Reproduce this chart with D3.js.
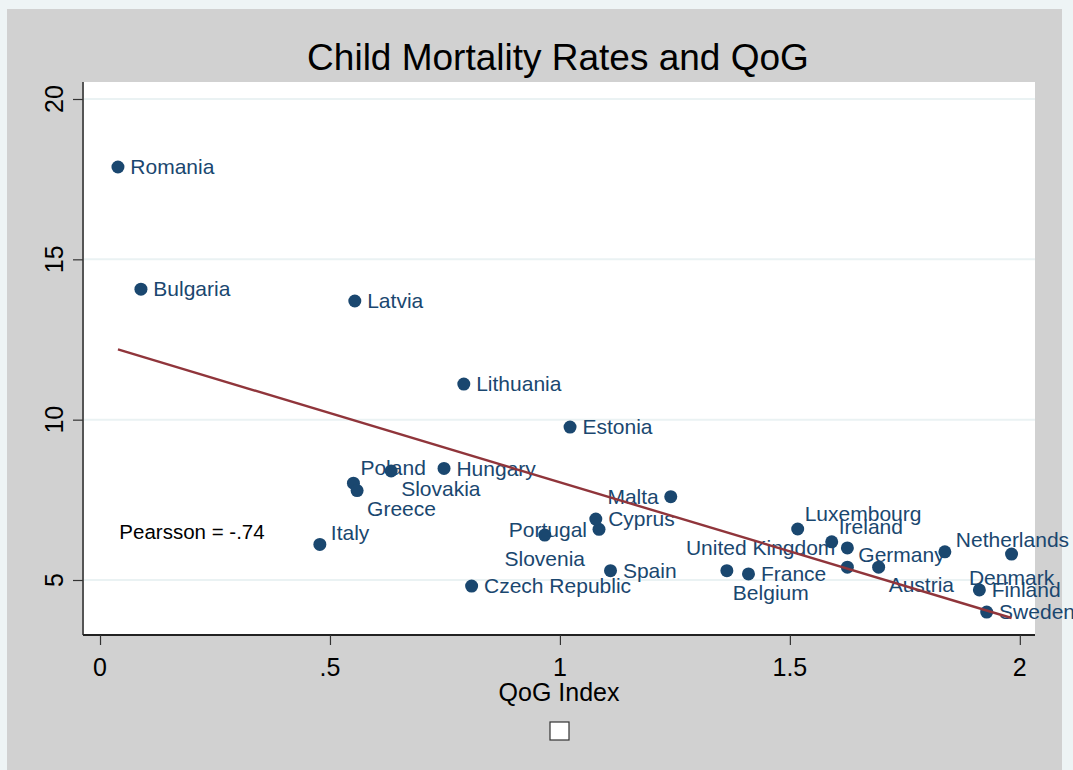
<!DOCTYPE html>
<html>
<head>
<meta charset="utf-8">
<script src="https://cdn.jsdelivr.net/npm/d3@7"></script>
<style>
  html, body { margin: 0; padding: 0; background: #eef4f5; }
  svg { display: block; }
  text { font-family: "Liberation Sans", Arial, Helvetica, sans-serif; }
</style>
</head>
<body>
<svg id="chart" width="1073" height="770"></svg>
<script>
// ---------------- data ----------------
const countries = ["Romania","Bulgaria","Latvia","Lithuania","Estonia","Hungary","Poland","Slovakia","Greece","Italy",
  "Czech Republic","Slovenia","Portugal","Cyprus","Malta","Spain","Luxembourg","Ireland","United Kingdom","Germany",
  "Austria","Netherlands","Denmark","Finland","Sweden","France","Belgium"];
const qogIndex = [0.039,0.089,0.554,0.791,1.022,0.748,0.551,0.633,0.559,0.478,
  0.808,0.967,1.085,1.078,1.241,1.110,1.517,1.591,1.625,1.625,
  1.693,1.837,1.982,1.912,1.928,1.410,1.363];
const childMortality = [17.88,14.07,13.70,11.11,9.77,8.48,8.02,8.40,7.79,6.11,
  4.81,6.40,6.58,6.90,7.60,5.29,6.59,6.19,6.00,5.40,
  5.40,5.88,5.81,4.69,4.00,5.19,5.29];
// marker-label clock positions (Stata mlabvposition style)
const labelClock = [3,3,3,3,3,3,1,4,4,2,
  3,6,9,3,9,3,1,1,9,2,
  4,2,6,3,3,3,5];
const xTicks = [0, 0.5, 1, 1.5, 2];
const xTickLabels = ["0", ".5", "1", "1.5", "2"];
const yTicks = [5, 10, 15, 20];
const yTickLabels = ["5", "10", "15", "20"];
const titleText = "Child Mortality Rates and QoG";
const xAxisTitle = "QoG Index";
const annotText = "Pearsson = -.74";
const annotPos = [0.2, 6.5];

// ---------------- layout ----------------
const W = 1073, H = 770;
const plot = {left: 83, right: 1035, top: 82, bottom: 635};
const navy = "#1a476f", maroon = "#90353b";

const x = d3.scaleLinear().domain([-0.037, 2.033]).range([plot.left, plot.right]);
const y = d3.scaleLinear().domain([3.285, 20.53]).range([plot.bottom, plot.top]);

const svg = d3.select("#chart");
svg.append("rect").attr("x", 0).attr("y", 0).attr("width", W).attr("height", H).attr("fill", "#eef4f5");
svg.append("rect").attr("x", 7).attr("y", 9).attr("width", 1055).attr("height", 761).attr("fill", "#d1d1d1");
svg.append("rect").attr("x", plot.left).attr("y", plot.top)
  .attr("width", plot.right - plot.left).attr("height", plot.bottom - plot.top).attr("fill", "#ffffff");

// gridlines
svg.append("g").selectAll("line").data(yTicks).join("line")
  .attr("x1", plot.left).attr("x2", plot.right)
  .attr("y1", d => y(d)).attr("y2", d => y(d))
  .attr("stroke", "#eaf2f3").attr("stroke-width", 2);

// y axis
const yAxis = svg.append("g").attr("transform", `translate(${plot.left},0)`)
  .call(d3.axisLeft(y).tickValues(yTicks).tickSize(10).tickFormat(""));
yAxis.select(".domain").attr("d", `M0,${plot.top}V${plot.bottom}`).attr("stroke", "#555").attr("stroke-width", 2);
yAxis.selectAll(".tick line").attr("stroke", "#333").attr("stroke-width", 1.2);
svg.append("g").selectAll("text").data(yTicks).join("text")
  .attr("transform", d => `translate(63,${y(d)}) rotate(-90)`)
  .attr("text-anchor", "middle").attr("font-size", 25).attr("fill", "#000")
  .text((d, i) => yTickLabels[i]);

// x axis
const xAxis = svg.append("g").attr("transform", `translate(0,${plot.bottom})`)
  .call(d3.axisBottom(x).tickValues(xTicks).tickSize(10).tickFormat(""));
xAxis.select(".domain").attr("d", `M${plot.left},0H${plot.right}`).attr("stroke", "#222").attr("stroke-width", 2);
xAxis.selectAll(".tick line").attr("stroke", "#333").attr("stroke-width", 1.2);
svg.append("g").selectAll("text").data(xTicks).join("text")
  .attr("x", d => x(d)).attr("y", 676)
  .attr("text-anchor", "middle").attr("font-size", 25).attr("fill", "#000")
  .text((d, i) => xTickLabels[i]);

// titles
svg.append("text").attr("x", 558).attr("y", 70).attr("text-anchor", "middle")
  .attr("font-size", 37).attr("fill", "#000").text(titleText);
svg.append("text").attr("x", (plot.left + plot.right) / 2).attr("y", 701).attr("text-anchor", "middle")
  .attr("font-size", 25).attr("fill", "#000").text(xAxisTitle);

// empty legend key box
svg.append("rect").attr("x", 550).attr("y", 722).attr("width", 19).attr("height", 18)
  .attr("fill", "#fff").attr("stroke", "#333").attr("stroke-width", 1.2);

// data
const data = countries.map((c, i) => ({name: c, q: qogIndex[i], m: childMortality[i], clock: labelClock[i]}));

// linear fit
const mx = d3.mean(data, d => d.q), my = d3.mean(data, d => d.m);
const sxy = d3.sum(data, d => (d.q - mx) * (d.m - my));
const sxx = d3.sum(data, d => (d.q - mx) ** 2);
const slope = sxy / sxx, intercept = my - slope * mx;
const [qmin, qmax] = d3.extent(qogIndex);
const fitLine = d3.line().x(d => x(d[0])).y(d => y(d[1]));

// markers
svg.append("g").selectAll("circle").data(data).join("circle")
  .attr("cx", d => x(d.q)).attr("cy", d => y(d.m)).attr("r", 6.5).attr("fill", navy);

// labels
const clockOffsets = {
  1: {dx: 7, dy: -15, anchor: "start"},
  2: {dx: 11, dy: -12, anchor: "start"},
  3: {dx: 12.4, dy: 0, anchor: "start"},
  4: {dx: 10, dy: 18, anchor: "start"},
  5: {dx: 6, dy: 22, anchor: "start"},
  6: {dx: 0, dy: 23.5, anchor: "middle"},
  9: {dx: -12, dy: 0, anchor: "end"}
};
svg.append("g").selectAll("text").data(data).join("text")
  .attr("x", d => x(d.q) + clockOffsets[d.clock].dx)
  .attr("y", d => y(d.m) + clockOffsets[d.clock].dy + 7.3)
  .attr("text-anchor", d => clockOffsets[d.clock].anchor)
  .attr("font-size", 21).attr("fill", navy)
  .text(d => d.name);

// fit line drawn on top
svg.append("path").datum([[qmin, intercept + slope * qmin], [qmax, intercept + slope * qmax]])
  .attr("d", fitLine).attr("fill", "none").attr("stroke", maroon).attr("stroke-width", 2.4);

// annotation
svg.append("text").attr("x", x(annotPos[0])).attr("y", y(annotPos[1]) + 7.3)
  .attr("text-anchor", "middle").attr("font-size", 20.5).attr("fill", "#000").text(annotText);
</script>
</body>
</html>
